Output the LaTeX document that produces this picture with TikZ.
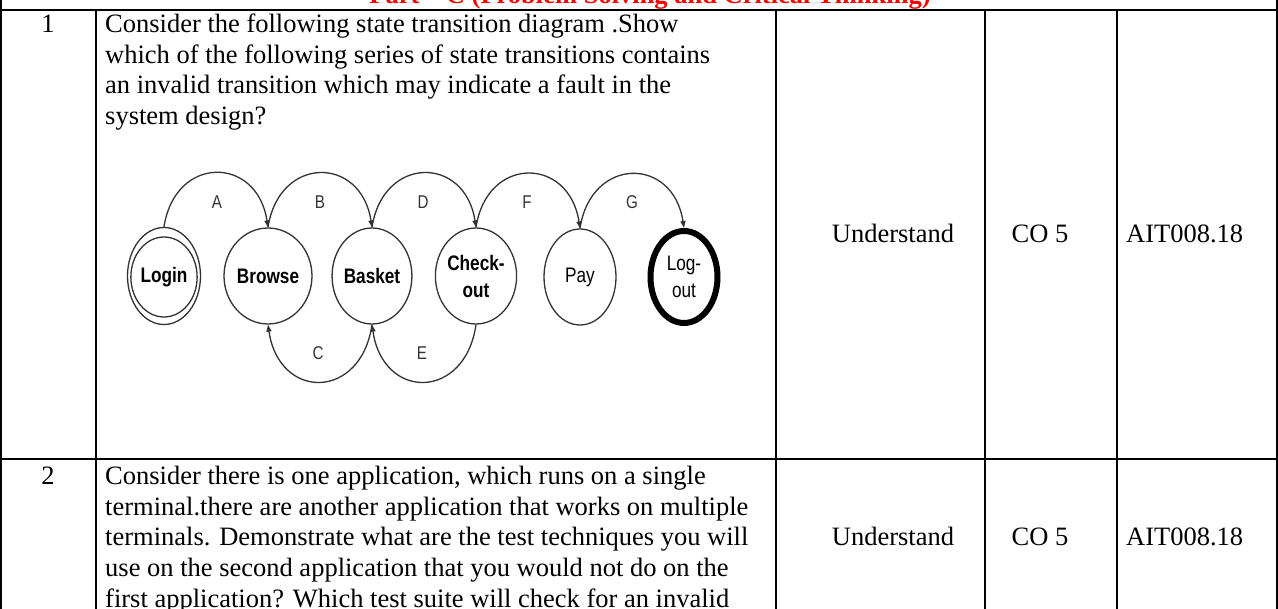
\documentclass[tikz,border=0pt]{standalone}
\usepackage{fontspec}
\setmainfont{Liberation Serif}
\newfontfamily\diagfont[FakeStretch=0.82]{Liberation Sans}
\usetikzlibrary{arrows.meta,shapes.geometric}
\definecolor{linec}{HTML}{333333}
\definecolor{titlered}{HTML}{FF0000}
\begin{document}
\begin{tikzpicture}[x=1pt,y=-1pt,
  grid/.style={line width=2pt},
  cell/.style={anchor=base west, inner sep=0pt, font=\fontsize{26.5}{30.5}\selectfont},
  ctext/.style={anchor=base, inner sep=0pt, font=\fontsize{26.5}{30.5}\selectfont},
  state/.style={ellipse, draw=linec, line width=1.3pt, minimum width=72pt, minimum height=96pt, inner sep=0pt, align=center, font=\diagfont\fontsize{21}{27}\selectfont},
  bstate/.style={state, font=\diagfont\bfseries\fontsize{21}{27}\selectfont},
  edge/.style={draw=linec, line width=1.3pt, -{Triangle[length=7pt,width=5pt]}},
  lbl/.style={inner sep=0pt, text=linec, font=\diagfont\fontsize{18.5}{20}\selectfont}]
\useasboundingbox (0,0) rectangle (1278,609);
% title
\node[anchor=base, inner sep=0pt, text=titlered, font=\fontsize{26.5}{30}\selectfont\bfseries] (title) at (650,4) {Part -- C (Problem Solving and Critical Thinking)};
% table grid
\coordinate (tl) at (1,0); \coordinate (bl) at (1,609);
\coordinate (tr) at (1277,0); \coordinate (br) at (1277,609);
\draw[grid] (tl) -- (bl);
\draw[grid] (tr) -- (br);
\draw[grid] (0,10) -- (1278,10);
\draw[grid] (0,459) -- (1278,459);
\foreach \x in {96,776,985,1117} \draw[grid] (\x,10) -- (\x,609);
% row 1
\node[ctext] (n1) at (48,33) {1};
\node[cell] (q1a) at (105,33) {Consider the following state transition diagram .Show};
\node[cell] (q1b) at (105,63.5) {which of the following series of state transitions contains};
\node[cell] (q1c) at (105,94) {an invalid transition which may indicate a fault in the};
\node[cell] (q1d) at (105,124.5) {system design?};
\node[ctext] (u1) at (893,243) {Understand};
\node[ctext] (co1) at (1040,243) {CO 5};
\node[cell] (a1) at (1126,243) {AIT008.18};
% row 2
\node[ctext] (n2) at (48,485) {2};
\node[cell] (q2a) at (105,485) {Consider there is one application, which runs on a single};
\node[cell] (q2b) at (105,515.5) {terminal.there are another application that works on multiple};
\node[cell] (q2c) at (105,546) {terminals. Demonstrate what are the test techniques you will};
\node[cell] (q2d) at (105,576.5) {use on the second application that you would not do on the};
\node[cell] (q2e) at (105,607) {first application? Which test suite will check for an invalid};
\node[ctext] (u2) at (893,546) {Understand};
\node[ctext] (co2) at (1040,546) {CO 5};
\node[cell] (a2) at (1126,546) {AIT008.18};
% state diagram
\node[state, minimum width=73pt, minimum height=97pt] (login) at (164,276) {};
\node[bstate, minimum width=60pt, minimum height=80pt] (loginin) at (164,277) {Login};
\node[bstate] (browse) at (268,276) {Browse};
\node[bstate] (basket) at (372,276) {Basket};
\node[bstate] (checkout) at (476,276) {Check-\\out};
\node[state] (pay) at (580,277) {Pay};
\node[state, draw=black, line width=6pt, minimum width=67pt, minimum height=92pt] (logout) at (684,277) {Log-\\out};
% transitions
\draw[edge] (login.north) .. controls +(11,-72) and +(-11,-72) .. (browse.north);
\draw[edge] (browse.north) .. controls +(11,-72) and +(-11,-72) .. (basket.north);
\draw[edge] (basket.north) .. controls +(11,-72) and +(-11,-72) .. (checkout.north);
\draw[edge] (checkout.north) .. controls +(11,-72) and +(-11,-72) .. (pay.north);
\draw[edge] (pay.north) .. controls +(11,-72) and +(-11,-72) .. (logout.north);
\draw[edge] (basket.south) .. controls +(-11,76) and +(11,76) .. (browse.south);
\draw[edge] (checkout.south) .. controls +(-11,76) and +(11,76) .. (basket.south);
% transition labels
\node[lbl] (la) at (217,202) {A};
\node[lbl] (lb) at (320,202) {B};
\node[lbl] (ld) at (423,202) {D};
\node[lbl] (lf) at (527,202) {F};
\node[lbl] (lg) at (632,202) {G};
\node[lbl] (lc) at (318,353) {C};
\node[lbl] (le) at (422,353) {E};
\end{tikzpicture}
\end{document}
